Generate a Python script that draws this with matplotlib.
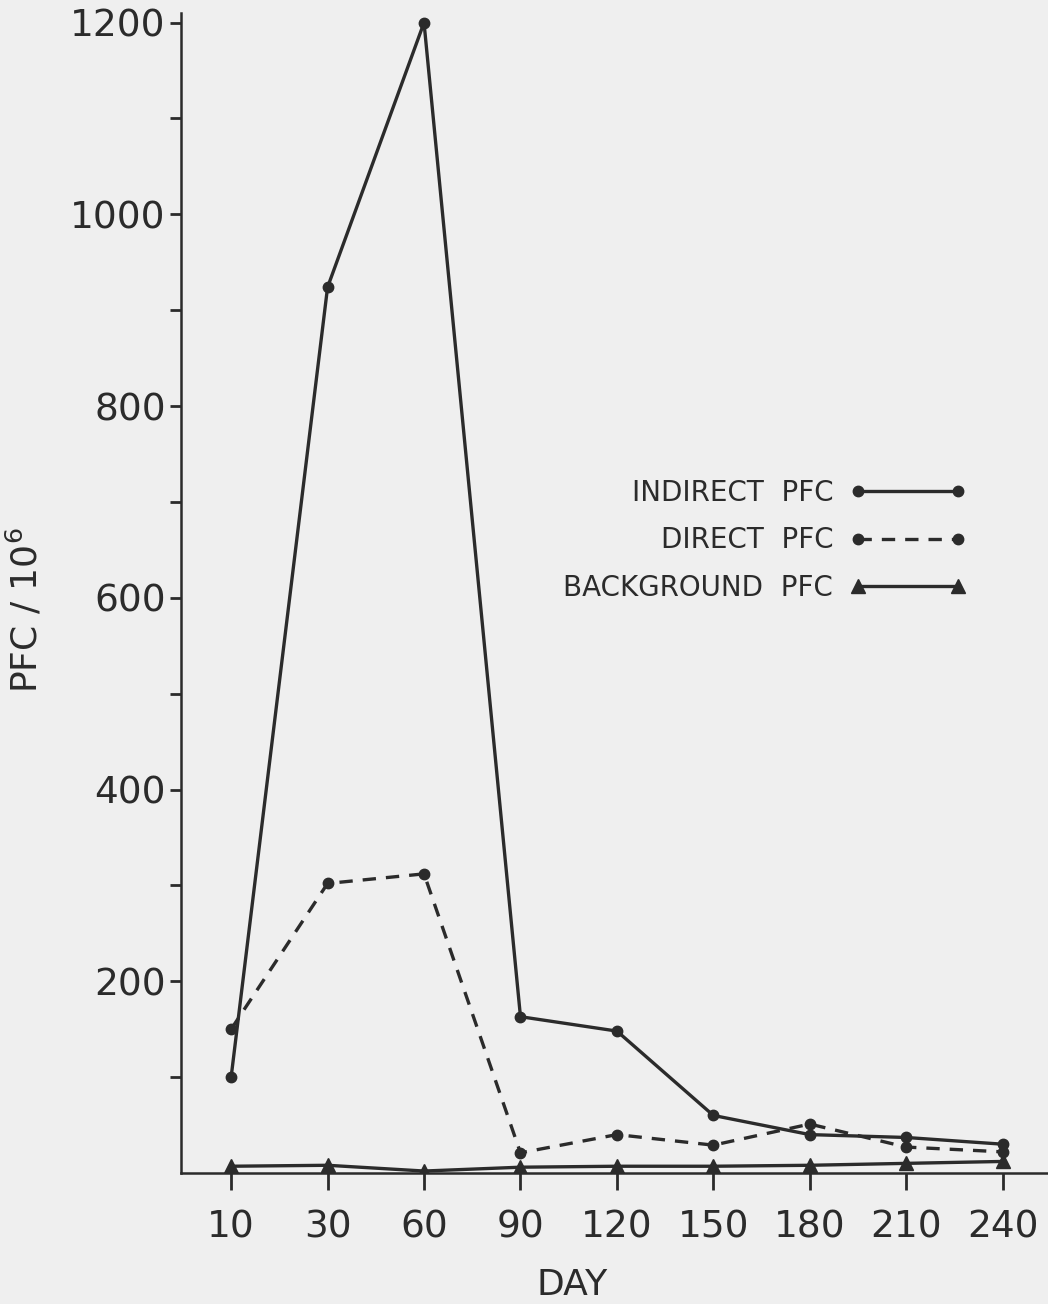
import matplotlib
matplotlib.use('Agg')
from matplotlib import pyplot as plt
import numpy as np

days = ['10', '30', '60', '90', '120', '150', '180', '210', '240']
indirect = [100, 924, 1200, 163, 148, 60, 40, 37, 30]
direct = [150, 302, 312, 21, 40, 29, 51, 27, 22]
background = [7, 8, 2, 6, 7, 7, 8, 10, 12]

plt.rcParams['font.family'] = 'DejaVu Sans'
ink = '#2b2b2b'
paper = '#efefef'

fig = plt.figure(figsize=(10.48, 13.04), dpi=100, facecolor=paper)
ax = fig.add_axes([0.1727, 0.1005, 0.8273, 0.8895], facecolor=paper)

x = np.arange(len(days))
ax.plot(x, indirect, '-', color=ink, lw=2.4, marker='o', ms=7.5, label='INDIRECT  PFC')
ax.plot(x, direct, '--', color=ink, lw=2.4, dashes=(4, 3), marker='o', ms=7.5, label='DIRECT  PFC')
ax.plot(x, background, '-', color=ink, lw=2.4, marker='^', ms=10, label='BACKGROUND  PFC')

ax.set_xlim(-0.52, 8.47)
ax.set_ylim(0, 1210)
ax.set_xticks(x)
ax.set_xticklabels(days, fontsize=27, color=ink)
ax.set_yticks(np.arange(200, 1201, 200))
ax.set_yticklabels([str(v) for v in range(200, 1201, 200)], fontsize=27, color=ink)
ax.set_yticks(np.arange(100, 1200, 200), minor=True)

ax.tick_params(axis='x', direction='out', length=12, width=2, color=ink, pad=14)
ax.tick_params(axis='y', which='both', direction='out', length=8, width=2, color=ink, pad=3)

for s in ['top', 'right']:
    ax.spines[s].set_visible(False)
for s in ['left', 'bottom']:
    ax.spines[s].set_color(ink)
    ax.spines[s].set_linewidth(1.8)

ax.set_ylabel('PFC / 10$^6$', fontsize=26, color=ink)
ax.yaxis.set_label_coords(-0.158, 0.485)
fig.text(572 / 1048, 1 - 1285 / 1304, 'DAY', fontsize=26, color=ink, ha='center', va='center')

# legend: label on the left, sample on the right
leg = ax.legend(loc='upper right', bbox_to_anchor=(0.935, 0.62), frameon=False,
                markerfirst=False, fontsize=20, handlelength=4.2, labelspacing=0.7,
                handletextpad=0.6, numpoints=2)
for t in leg.get_texts():
    t.set_color(ink)
    t.set_ha('right')

fig.savefig('out.png', dpi=100, facecolor=paper)
